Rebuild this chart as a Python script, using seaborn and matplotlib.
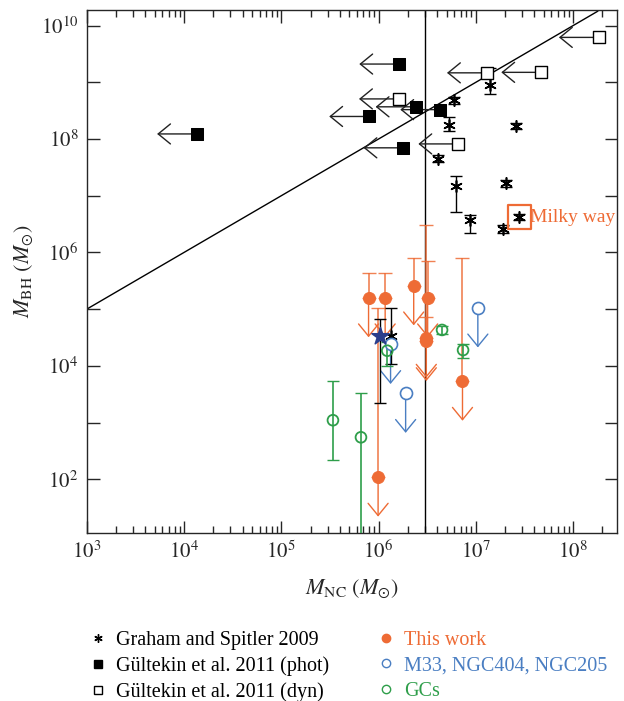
import numpy as np
import pandas as pd
import matplotlib
matplotlib.use("Agg")
import matplotlib.pyplot as plt
from matplotlib.lines import Line2D
from matplotlib.ticker import LogLocator, FuncFormatter, NullLocator
import seaborn as sns

# Graham and Spitler 2009 (asterisks with error bars)
gs_nc = [1.4e7, 6.0e6, 5.3e6, 2.6e7, 4.1e6, 6.3e6, 2.05e7, 2.8e7, 8.7e6, 1.9e7, 1.33e6]
gs_bh = [9.1e8, 4.8e8, 1.8e8, 1.7e8, 4.5e7, 1.5e7, 1.66e7, 4.2e6, 3.7e6, 2.6e6, 3.4e4]
gs_lo = [6.3e8, 4.2e8, 1.4e8, 1.5e8, 3.9e7, 5.2e6, 1.45e7, 3.7e6, 2.2e6, 2.2e6, 1.07e4]
gs_hi = [1.8e9, 5.5e8, 2.45e8, 1.95e8, 5.2e7, 2.26e7, 1.9e7, 4.8e6, 4.6e6, 3.0e6, 1.05e5]

# extra point (blue star)
star_nc = [1.04e6]
star_bh = [3.4e4]
star_lo = [2.2e3]
star_hi = [6.8e4]

# Gultekin et al. 2011 (phot), upper limits in M_NC
phot_nc = [1.36e4, 8.0e5, 1.63e6, 1.8e6, 2.4e6, 4.3e6]
phot_bh = [1.23e8, 2.5e8, 2.1e9, 7.0e7, 3.7e8, 3.3e8]

# Gultekin et al. 2011 (dyn), upper limits in M_NC
dyn_nc = [1.62e6, 6.6e6, 1.3e7, 4.7e7, 1.84e8]
dyn_bh = [5.1e8, 8.2e7, 1.47e9, 1.5e9, 6.2e9]

# This work, upper limits in M_BH
tw_nc = [7.9e5, 1.17e6, 2.3e6, 3.2e6, 3.1e6, 3.1e6, 7.3e6, 9.9e5]
tw_bh = [1.6e5, 1.6e5, 2.6e5, 1.6e5, 3.1e4, 2.7e4, 5.4e3, 1.1e2]
tw_hi = [4.3e5, 4.3e5, 8.1e5, 7.1e5, 3.1e6, 7.4e4, 8.1e5, 1.05e5]

# M33, NGC404, NGC205 upper limits
m33_nc = [1.05e7, 1.33e6, 1.9e6]
m33_bh = [1.06e5, 2.4e4, 3.3e3]

# GCs
gc_nc = [4.5e6, 7.4e6, 1.23e6, 3.4e5, 6.6e5]
gc_bh = [4.3e4, 1.9e4, 1.85e4, 1.1e3, 5.5e2]
gc_lo = [3.6e4, 1.4e4, 1.0e4, 2.2e2, 5.0]
gc_hi = [5.1e4, 2.45e4, 2.6e4, 5.4e3, 3.3e3]

# Milky way
mw_nc = 2.8e7
mw_bh = 4.2e6

# relation M_BH = 100 M_NC and M_NC threshold
rel_nc = np.array([1e3, 1.8e8])
rel_factor = 100
nc_split = 3.0e6

ORANGE = "#EE6B35"
BLUE = "#4A7EC2"
GREEN = "#2E9E4A"

sns.set_style("ticks")
plt.rcParams["font.family"] = ["Liberation Serif", "DejaVu Serif"]
plt.rcParams["mathtext.fontset"] = "stix"

fig = plt.figure(figsize=(6.24, 7.01), dpi=100)
ax = fig.add_axes([0.139, 0.240, 0.85, 0.746])

ax.set_xscale("log")
ax.set_yscale("log")

# reference lines
ax.plot(rel_nc, rel_factor * rel_nc, color="black", lw=1, zorder=2)
ax.axvline(nc_split, color="black", lw=1, zorder=2)

def arrow(x0, y0, x1, y1, color):
    ax.annotate("", xy=(x1, y1), xytext=(x0, y0),
                arrowprops=dict(arrowstyle="->,head_length=0.55,head_width=0.45",
                                color=color, lw=1, mutation_scale=16,
                                shrinkA=0, shrinkB=0), zorder=3)

# horizontal upper limits for the Gultekin samples
xfac = 10 ** 0.41
for x, y in zip(phot_nc + dyn_nc, phot_bh + dyn_bh):
    arrow(x, y, x / xfac, y, "#222222")

# vertical upper limits
yfac = 10 ** 0.7
for x, y, hi in zip(tw_nc, tw_bh, tw_hi):
    ax.errorbar([x], [y], yerr=[[0], [hi - y]], fmt="none", ecolor=ORANGE,
                elinewidth=1.2, capsize=5, alpha=0.85, zorder=3)
    arrow(x, y, x, y / yfac, ORANGE)
for x, y in zip(m33_nc, m33_bh):
    arrow(x, y, x, y / yfac, BLUE)

# error bars
gs_err = [np.array(gs_bh) - np.array(gs_lo), np.array(gs_hi) - np.array(gs_bh)]
ax.errorbar(gs_nc, gs_bh, yerr=gs_err, fmt="none", ecolor="black",
            elinewidth=1, capsize=4, zorder=3)
st_err = [np.array(star_bh) - np.array(star_lo), np.array(star_hi) - np.array(star_bh)]
ax.errorbar(star_nc, star_bh, yerr=st_err, fmt="none", ecolor="black",
            elinewidth=1, capsize=4, zorder=3)
gc_err = [np.array(gc_bh) - np.array(gc_lo), np.array(gc_hi) - np.array(gc_bh)]
ax.errorbar(gc_nc, gc_bh, yerr=gc_err, fmt="none", ecolor=GREEN,
            elinewidth=1.2, capsize=4, zorder=3)

# markers
sns.scatterplot(x=gs_nc, y=gs_bh, marker=(6, 2, 0), s=65, color="black",
                linewidth=1.2, ax=ax, zorder=4)
sns.scatterplot(x=phot_nc, y=phot_bh, marker="s", s=85, color="black",
                edgecolor="black", ax=ax, zorder=4)
sns.scatterplot(x=dyn_nc, y=dyn_bh, marker="s", s=85, facecolor="white",
                edgecolor="black", linewidth=1, ax=ax, zorder=4)
sns.scatterplot(x=tw_nc, y=tw_bh, marker="o", s=75, color=ORANGE,
                edgecolor=ORANGE, ax=ax, zorder=4)
sns.scatterplot(x=m33_nc, y=m33_bh, marker="o", s=75, facecolor="white",
                edgecolor=BLUE, linewidth=1.2, ax=ax, zorder=4)
sns.scatterplot(x=gc_nc, y=gc_bh, marker="o", s=60, facecolor="none",
                edgecolor=GREEN, linewidth=1.3, ax=ax, zorder=4)
sns.scatterplot(x=star_nc, y=star_bh, marker="*", s=170, color="#2B3E8C",
                edgecolor="#2B3E8C", ax=ax, zorder=4)

# Milky way
ax.scatter([mw_nc], [mw_bh], marker="s", s=280, facecolor="none",
           edgecolor=ORANGE, linewidth=1.6, zorder=5)
ax.annotate("Milky way", xy=(mw_nc, mw_bh), xytext=(8, 0),
            textcoords="offset points", va="center", ha="left",
            color=ORANGE, fontsize=14)

ax.set_xlim(1e3, 2.84e8)
ax.set_ylim(11.4, 1.9e10)

ax.xaxis.set_major_locator(LogLocator(base=10, numticks=20))
ax.xaxis.set_minor_locator(LogLocator(base=10, subs=np.arange(2, 10), numticks=20))
ax.yaxis.set_major_locator(LogLocator(base=10, subs=(1.0,), numticks=20))
ax.yaxis.set_minor_locator(NullLocator())
ax.xaxis.set_major_formatter(FuncFormatter(lambda v, _: f"$10^{{{int(round(np.log10(v)))}}}$"))
ax.yaxis.set_major_formatter(FuncFormatter(
    lambda v, _: f"$10^{{{int(round(np.log10(v)))}}}$" if int(round(np.log10(v))) % 2 == 0 else ""))

ax.tick_params(which="both", direction="in", top=True, right=True, labelsize=15, width=1)
ax.tick_params(which="major", length=9, pad=6)
ax.tick_params(which="minor", length=5)
for s in ax.spines.values():
    s.set_linewidth(1)

ax.set_xlabel(r"$M_{\mathrm{NC}}\ (M_{\odot})$", fontsize=16, labelpad=10)
ax.set_ylabel(r"$M_{\mathrm{BH}}\ (M_{\odot})$", fontsize=16, labelpad=4)

handles = [
    Line2D([], [], ls="none", marker=(6, 2, 0), color="black", markersize=6),
    Line2D([], [], ls="none", marker="s", color="black", markersize=6),
    Line2D([], [], ls="none", marker="s", markerfacecolor="white", markeredgecolor="black", markersize=6),
    Line2D([], [], ls="none", marker="o", color=ORANGE, markersize=6),
    Line2D([], [], ls="none", marker="o", markerfacecolor="white", markeredgecolor=BLUE, markersize=6),
    Line2D([], [], ls="none", marker="o", markerfacecolor="white", markeredgecolor=GREEN, markersize=6),
]
labels = ["Graham and Spitler 2009", "Gültekin et al. 2011 (phot)", "Gültekin et al. 2011 (dyn)",
          "This work", "M33, NGC404, NGC205", "GCs"]
leg = fig.legend(handles, labels, ncol=2, loc="upper left", bbox_to_anchor=(0.128, 0.111),
                 frameon=False, fontsize=14.5, handlelength=1.0, handletextpad=0.4,
                 columnspacing=2.3, labelspacing=0.3, borderaxespad=0)
for t, c in zip(leg.get_texts(), ["black", "black", "black", ORANGE, BLUE, GREEN]):
    t.set_color(c)

fig.savefig("out.png", dpi=100)
